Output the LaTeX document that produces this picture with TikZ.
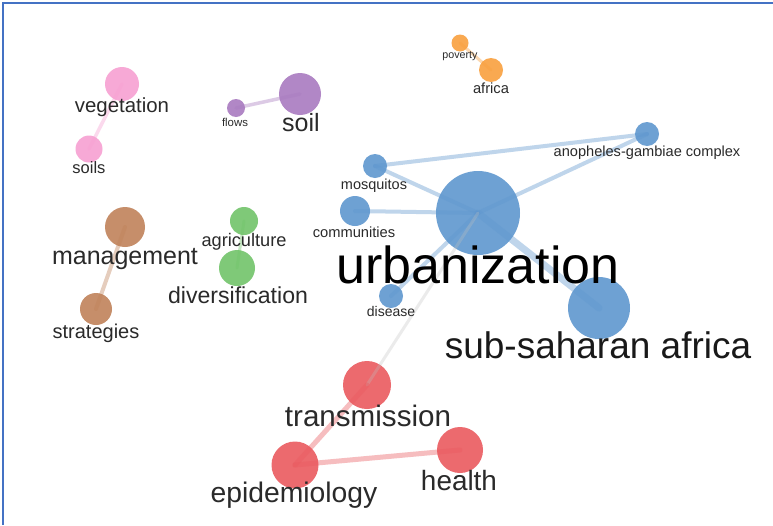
\documentclass[tikz,border=0pt]{standalone}
\usepackage{fontspec}
\setmainfont{Liberation Sans}
\definecolor{kwblue}{HTML}{5F97CF}
\definecolor{kwred}{HTML}{EA5A5F}
\definecolor{kworange}{HTML}{F9A03F}
\definecolor{kwgreen}{HTML}{72C46A}
\definecolor{kwpurple}{HTML}{A97BC0}
\definecolor{kwpink}{HTML}{F7A0D2}
\definecolor{kwbrown}{HTML}{C0825A}
\definecolor{frameblue}{HTML}{4472C4}
\definecolor{labelgray}{HTML}{2A2A2A}
\newcommand{\fsz}[1]{\fontsize{#1}{#1}\selectfont}
\begin{document}
\begin{tikzpicture}[x=1pt,y=-1pt,
  kw/.style={circle,inner sep=0pt,minimum size=#1},
  lbl/.style={anchor=base,inner sep=0pt,text=labelgray},
  link/.style={line width=#1,line cap=round,opacity=0.4},
  link/.default=4pt]
\useasboundingbox (0,0) rectangle (773,525);
\fill[white] (0,0) rectangle (773,525);
\draw[frameblue,line width=2.8pt] (3,525) -- (3,3) -- (773,3);

% keyword circles
\node[kw=84pt,fill=kwblue,fill opacity=0.9] (urb) at (478,213) {};
\node[kw=62pt,fill=kwblue,fill opacity=0.9] (ssa) at (599,308) {};
\node[kw=30pt,fill=kwblue,fill opacity=0.9] (com) at (355,211) {};
\node[kw=24pt,fill=kwblue,fill opacity=0.9] (mos) at (375,166) {};
\node[kw=24pt,fill=kwblue,fill opacity=0.9] (dis) at (391,296) {};
\node[kw=24pt,fill=kwblue,fill opacity=0.9] (ano) at (647,134) {};

\node[kw=48pt,fill=kwred,fill opacity=0.9] (tra) at (367,385) {};
\node[kw=47pt,fill=kwred,fill opacity=0.9] (epi) at (295,465) {};
\node[kw=46pt,fill=kwred,fill opacity=0.9] (hea) at (460,450) {};

\node[kw=34pt,fill=kwpink,fill opacity=0.9] (veg) at (122,84) {};
\node[kw=27pt,fill=kwpink,fill opacity=0.9] (sls) at (89,149) {};

\node[kw=42pt,fill=kwpurple,fill opacity=0.9] (soi) at (300,94) {};
\node[kw=18pt,fill=kwpurple,fill opacity=0.9] (flo) at (236,108) {};

\node[kw=17pt,fill=kworange,fill opacity=0.9] (pov) at (460,43) {};
\node[kw=24pt,fill=kworange,fill opacity=0.9] (afr) at (491,70) {};

\node[kw=40pt,fill=kwbrown,fill opacity=0.9] (man) at (125,227) {};
\node[kw=32pt,fill=kwbrown,fill opacity=0.9] (str) at (96,309) {};

\node[kw=28pt,fill=kwgreen,fill opacity=0.9] (agr) at (244,221) {};
\node[kw=36pt,fill=kwgreen,fill opacity=0.9] (div) at (237,268) {};

% co-occurrence links
\draw[link=7pt,kwblue] (urb.center) -- (ssa.center);
\draw[link,kwblue] (urb.center) -- (com.center);
\draw[link,kwblue] (urb.center) -- (mos.center);
\draw[link,kwblue] (urb.center) -- (dis.center);
\draw[link,kwblue] (urb.center) -- (ano.center);
\draw[link,kwblue] (mos.center) -- (ano.center);
\draw[link=3pt,gray!50,opacity=0.3] (urb.center) -- (tra.center);
\draw[link=5pt,kwred] (tra.center) -- (epi.center);
\draw[link=5pt,kwred] (epi.center) -- (hea.center);
\draw[link=3.5pt,kwpink] (veg.center) -- (sls.center);
\draw[link=3.5pt,kwpurple] (soi.center) -- (flo.center);
\draw[link=3pt,kworange] (pov.center) -- (afr.center);
\draw[link=4pt,kwbrown] (man.center) -- (str.center);
\draw[link=3pt,kwgreen] (agr.center) -- (div.center);

% keyword labels
\node[lbl,text=black,font=\fsz{52}] (lurb) at (478,283) {urbanization};
\node[lbl,text=black!90,font=\fsz{37}] (lssa) at (598,358) {sub-saharan africa};
\node[lbl,font=\fsz{14.7}] (lcom) at (354,237) {communities};
\node[lbl,font=\fsz{14.5}] (lmos) at (374,189) {mosquitos};
\node[lbl,font=\fsz{14}] (ldis) at (391,316) {disease};
\node[lbl,font=\fsz{14.6}] (lano) at (647,156) {anopheles-gambiae complex};
\node[lbl,font=\fsz{29.6}] (ltra) at (368,426) {transmission};
\node[lbl,font=\fsz{28.3}] (lepi) at (294,502) {epidemiology};
\node[lbl,font=\fsz{27.9}] (lhea) at (459,490) {health};
\node[lbl,font=\fsz{20.4}] (lveg) at (122,112) {vegetation};
\node[lbl,font=\fsz{16.5}] (lsls) at (89,173) {soils};
\node[lbl,font=\fsz{25}] (lsoi) at (301,131) {soil};
\node[lbl,font=\fsz{11.4}] (lflo) at (235,126) {flows};
\node[lbl,font=\fsz{10.7}] (lpov) at (460,58) {poverty};
\node[lbl,font=\fsz{14.7}] (lafr) at (491,93) {africa};
\node[lbl,font=\fsz{25}] (lman) at (125,264) {management};
\node[lbl,font=\fsz{20}] (lstr) at (96,338) {strategies};
\node[lbl,font=\fsz{18.2}] (lagr) at (244,246) {agriculture};
\node[lbl,font=\fsz{23.1}] (ldiv) at (238,303) {diversification};
\end{tikzpicture}
\end{document}
